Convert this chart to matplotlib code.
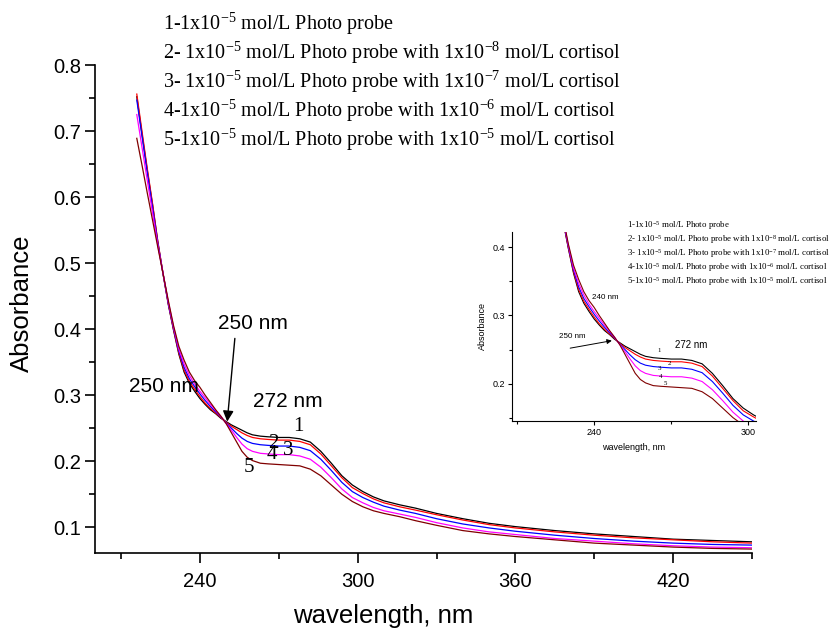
import matplotlib
matplotlib.use("Agg")
import matplotlib.pyplot as plt
from matplotlib.ticker import MultipleLocator

plt.rcParams['font.family'] = ['Liberation Sans', 'DejaVu Sans']
plt.rcParams['mathtext.fontset'] = 'custom'
plt.rcParams['mathtext.rm'] = 'Liberation Serif'
plt.rcParams['mathtext.it'] = 'Liberation Serif:italic'
plt.rcParams['mathtext.bf'] = 'Liberation Serif:bold'

# wavelength (nm) and absorbance of the five spectra
wl = [216, 218, 220, 222, 224, 226, 228, 230, 232, 234, 236, 238, 240, 242, 244,
      246, 248, 250, 252, 254, 256, 258, 260, 263, 266, 270, 274, 278, 282, 286,
      290, 294, 298, 302, 306, 310, 316, 322, 330, 340, 350, 360, 375, 390, 405,
      420, 435, 450]

abs1 = [0.752, 0.695, 0.640, 0.588, 0.532, 0.483, 0.437, 0.398, 0.362, 0.335, 0.318,
        0.306, 0.295, 0.286, 0.278, 0.272, 0.265, 0.260, 0.255, 0.251, 0.247, 0.243,
        0.240, 0.238, 0.237, 0.236, 0.236, 0.234, 0.229, 0.215, 0.197, 0.178, 0.164,
        0.154, 0.146, 0.140, 0.134, 0.129, 0.121, 0.113, 0.106, 0.101, 0.095, 0.090,
        0.086, 0.082, 0.080, 0.078]
abs2 = [0.756, 0.699, 0.643, 0.590, 0.533, 0.484, 0.438, 0.399, 0.364, 0.338, 0.321,
        0.309, 0.298, 0.288, 0.280, 0.273, 0.266, 0.259, 0.253, 0.248, 0.243, 0.239,
        0.236, 0.234, 0.233, 0.232, 0.232, 0.230, 0.225, 0.211, 0.193, 0.175, 0.160,
        0.151, 0.143, 0.137, 0.131, 0.126, 0.119, 0.111, 0.104, 0.099, 0.093, 0.088,
        0.084, 0.081, 0.078, 0.076]
abs3 = [0.747, 0.692, 0.637, 0.584, 0.530, 0.484, 0.439, 0.401, 0.367, 0.342, 0.325,
        0.313, 0.302, 0.292, 0.283, 0.275, 0.267, 0.258, 0.250, 0.242, 0.235, 0.230,
        0.227, 0.225, 0.224, 0.223, 0.223, 0.221, 0.216, 0.203, 0.186, 0.168, 0.154,
        0.145, 0.138, 0.132, 0.126, 0.121, 0.113, 0.105, 0.099, 0.094, 0.088, 0.083,
        0.079, 0.076, 0.074, 0.073]
abs4 = [0.725, 0.675, 0.625, 0.576, 0.527, 0.484, 0.441, 0.403, 0.370, 0.347, 0.330,
        0.317, 0.306, 0.296, 0.286, 0.277, 0.268, 0.257, 0.247, 0.236, 0.226, 0.219,
        0.215, 0.212, 0.211, 0.210, 0.210, 0.208, 0.203, 0.191, 0.175, 0.158, 0.145,
        0.137, 0.130, 0.125, 0.120, 0.115, 0.107, 0.099, 0.093, 0.089, 0.083, 0.079,
        0.075, 0.072, 0.070, 0.069]
abs5 = [0.689, 0.648, 0.606, 0.565, 0.524, 0.484, 0.443, 0.405, 0.374, 0.353, 0.335,
        0.322, 0.312, 0.300, 0.289, 0.278, 0.268, 0.257, 0.243, 0.229, 0.215, 0.206,
        0.201, 0.197, 0.196, 0.195, 0.194, 0.193, 0.188, 0.178, 0.164, 0.150, 0.139,
        0.131, 0.125, 0.121, 0.116, 0.110, 0.103, 0.095, 0.090, 0.086, 0.081, 0.076,
        0.073, 0.070, 0.068, 0.067]

series = [abs1, abs2, abs3, abs4, abs5]
colors = ['black', 'red', 'blue', 'magenta', '#800000']

captions = [r'1-1x10$^{-5}$ mol/L Photo probe',
            r'2- 1x10$^{-5}$ mol/L Photo probe with 1x10$^{-8}$ mol/L cortisol',
            r'3- 1x10$^{-5}$ mol/L Photo probe with 1x10$^{-7}$ mol/L cortisol',
            r'4-1x10$^{-5}$ mol/L Photo probe with 1x10$^{-6}$ mol/L cortisol',
            r'5-1x10$^{-5}$ mol/L Photo probe with 1x10$^{-5}$ mol/L cortisol']

fig = plt.figure(figsize=(8.39, 6.3), dpi=100)

# ---- main plot
ax = fig.add_axes([0.1129, 0.1227, 0.7834, 0.7741])
for ys, c in zip(series, colors):
    ax.plot(wl, ys, color=c, lw=0.9)
ax.set_xlim(200, 450)
ax.set_ylim(0.0615, 0.8)
ax.xaxis.set_minor_locator(MultipleLocator(30))
ax.set_xticks([240, 300, 360, 420])
ax.yaxis.set_major_locator(MultipleLocator(0.1))
ax.yaxis.set_minor_locator(MultipleLocator(0.05))
ax.spines['top'].set_visible(False)
ax.spines['right'].set_visible(False)
for s in ['left', 'bottom']:
    ax.spines[s].set_linewidth(1.2)
ax.tick_params(which='major', direction='out', length=7, width=1.2, labelsize=14.5)
ax.tick_params(which='minor', direction='out', length=4.5, width=1.2)
ax.tick_params(axis='x', which='major', pad=7)
ax.tick_params(axis='y', which='major', pad=3)
ax.set_xlabel('wavelength, nm', fontsize=18.5)
ax.set_ylabel('Absorbance', fontsize=18.5)
ax.xaxis.set_label_coords(0.439, -0.106)
ax.yaxis.set_label_coords(-0.092, 0.512)

ax.text(213.0, 0.313, '250 nm', fontsize=15, va='center', ha='left')
ax.text(246.8, 0.409, '250 nm', fontsize=15, va='center', ha='left')
ax.text(260.2, 0.291, '272 nm', fontsize=15, va='center', ha='left')
ax.annotate('', xy=(250.4, 0.260), xytext=(253.3, 0.386),
            arrowprops=dict(arrowstyle='-|>', color='black', lw=1.0,
                            mutation_scale=16, shrinkA=0, shrinkB=0))
num_pos = [(277.3, 0.252), (267.8, 0.227), (273.5, 0.217), (267.5, 0.210), (258.7, 0.191)]
for i, (xx, yy) in enumerate(num_pos):
    ax.text(xx, yy, str(i + 1), fontsize=15, family='Liberation Serif',
            ha='center', va='center')

for i, t in enumerate(captions):
    fig.text(163 / 839, 1 - (30 + 29 * i) / 630, t, fontsize=14.5,
             family='Liberation Serif', ha='left', va='baseline')

# ---- inset
ins = fig.add_axes([0.610, 0.3317, 0.2912, 0.3005])
for ys, c in zip(series, colors):
    ins.plot(wl, ys, color=c, lw=0.8)
ins.set_xlim(208, 303)
ins.set_ylim(0.145, 0.423)
ins.set_xticks([240, 300])
ins.xaxis.set_minor_locator(MultipleLocator(30))
ins.yaxis.set_major_locator(MultipleLocator(0.1))
ins.yaxis.set_minor_locator(MultipleLocator(0.05))
ins.spines['top'].set_visible(False)
ins.spines['right'].set_visible(False)
for s in ['left', 'bottom']:
    ins.spines[s].set_linewidth(0.8)
ins.tick_params(which='major', direction='out', length=3, width=0.8, labelsize=6.5, pad=2)
ins.tick_params(which='minor', direction='out', length=2, width=0.8)
ins.set_xlabel('wavelength, nm', fontsize=6.5)
ins.set_ylabel('Absorbance', fontsize=6.5)

ins.text(239.1, 0.326, '240 nm', fontsize=5.8, va='center', ha='left')
ins.text(226.4, 0.269, '250 nm', fontsize=5.8, va='center', ha='left')
ins.text(271.5, 0.257, '272 nm', fontsize=7, va='center', ha='left')
ins.annotate('', xy=(246.9, 0.263), xytext=(230.7, 0.252),
             arrowprops=dict(arrowstyle='-|>', color='black', lw=0.7,
                             mutation_scale=7, shrinkA=0, shrinkB=0))
ins_num = [(265.3, 0.249), (269.3, 0.229), (265.3, 0.222), (266.0, 0.211), (267.7, 0.200)]
for i, (xx, yy) in enumerate(ins_num):
    ins.text(xx, yy, str(i + 1), fontsize=5, family='Liberation Serif',
             ha='center', va='center')

for i, t in enumerate(captions):
    fig.text(626.7 / 839, 1 - (227.5 + 14.0 * i) / 630, t, fontsize=6.4,
             family='Liberation Serif', ha='left', va='baseline')

fig.savefig('out.png', dpi=100)
